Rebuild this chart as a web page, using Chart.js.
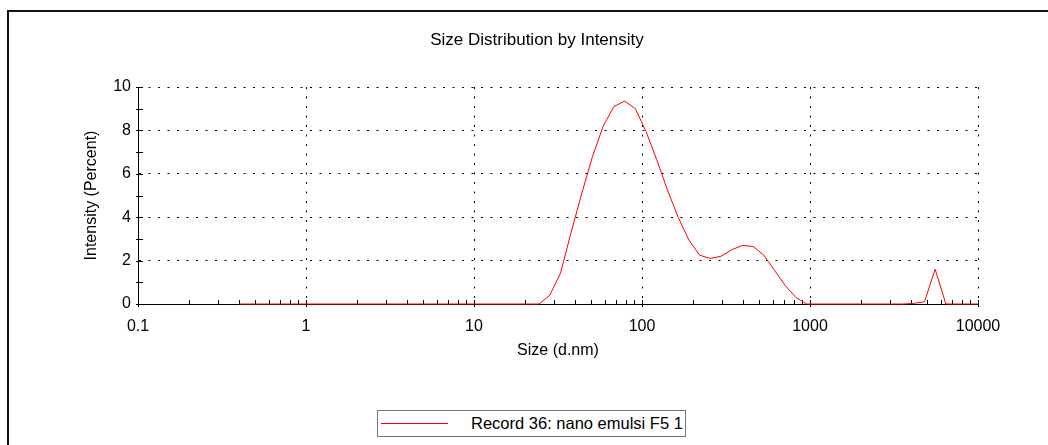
<!DOCTYPE html>
<html>
<head>
<meta charset="utf-8">
<script src="https://cdn.jsdelivr.net/npm/chart.js@4/dist/chart.umd.min.js"></script>
<style>
  body { margin: 0; background: #fff; }
  #wrap { position: relative; width: 1048px; height: 445px; overflow: hidden; }
  #frame { position: absolute; left: 7px; top: 10px; width: 2000px; height: 1000px;
           border-left: 2px solid #111; border-top: 2px solid #111; }
  #sizeChart { position: absolute; left: 0; top: 0; }
  #legend { position: absolute; left: 377px; top: 410px; width: 309px; height: 27px;
            box-sizing: border-box; border: 1px solid #777; background: #fff;
            font: 16.5px 'Liberation Sans', Arial, sans-serif; color: #000; }
  #legend .swatch { position: absolute; left: 3px; top: 12px; width: 67px; height: 1px; }
  #legend .text { position: absolute; left: 93px; top: 0; line-height: 25px; white-space: nowrap; }
</style>
</head>
<body>
<div id="wrap">
  <div id="frame"></div>
  <canvas id="sizeChart" width="1048" height="445"></canvas>
  <div id="legend"></div>
</div>
<script>
// size classes (d.nm) and intensity (%)
var sizes = [0.4, 0.4632, 0.5365, 0.6213, 0.7195, 0.8332, 0.9649, 1.117, 1.294, 1.499,
  1.736, 2.010, 2.328, 2.696, 3.122, 3.615, 4.187, 4.849, 5.615, 6.503,
  7.531, 8.721, 10.10, 11.70, 13.54, 15.69, 18.17, 21.04, 24.36, 28.21,
  32.67, 37.84, 43.82, 50.75, 58.77, 68.06, 78.82, 91.28, 105.7, 122.4,
  141.8, 164.2, 190.1, 220.2, 255.0, 295.3, 342.0, 396.1, 458.7, 531.2,
  615.1, 712.4, 825.0, 955.4, 1106, 1281, 1484, 1718, 1990, 2305,
  2669, 3091, 3580, 4145, 4801, 5560, 6439, 7456, 8635, 10000];
var intensity = [0, 0, 0, 0, 0, 0, 0, 0, 0, 0,
  0, 0, 0, 0, 0, 0, 0, 0, 0, 0,
  0, 0, 0, 0, 0, 0, 0, 0, 0, 0.4,
  1.4, 3.3, 5.1, 6.8, 8.2, 9.1, 9.35, 9.0, 7.95, 6.65,
  5.25, 4.0, 2.95, 2.25, 2.1, 2.2, 2.5, 2.7, 2.65, 2.25,
  1.55, 0.85, 0.3, 0, 0, 0, 0, 0, 0, 0,
  0, 0, 0, 0.03, 0.1, 1.6, 0, 0, 0, 0];
var seriesLabel = "Record 36: nano emulsi F5 1";
var xDecades = [0.1, 1, 10, 100, 1000, 10000];
var xTickLabels = ["0.1", "1", "10", "100", "1000", "10000"];
var yTickLabels = ["0", "", "2", "", "4", "", "6", "", "8", "", "10"];

Chart.defaults.font.family = "'Liberation Sans', Arial, sans-serif";
Chart.defaults.font.size = 16;
Chart.defaults.color = "#000";

// minor ticks 1..9 in every decade
var xTicks = [];
for (var d = 0; d < xDecades.length - 1; d++) {
  for (var m = 1; m <= 9; m++) xTicks.push(m * xDecades[d]);
}
xTicks.push(xDecades[xDecades.length - 1]);

function decadeIndex(v) {
  return xDecades.findIndex(function (dv) { return Math.abs(v / dv - 1) < 1e-6; });
}

var points = sizes.map(function (s, i) { return {x: s, y: intensity[i]}; });

// little tick marks that sit on the inside of the axes
var innerTicks = {
  id: "innerTicks",
  beforeDatasetsDraw: function (chart) {
    var ctx = chart.ctx, a = chart.chartArea, x = chart.scales.x, y = chart.scales.y;
    ctx.save();
    ctx.strokeStyle = "#000";
    ctx.lineWidth = 1;
    ctx.beginPath();
    x.ticks.forEach(function (t) {
      var px = Math.round(x.getPixelForValue(t.value)) + 0.5;
      var major = decadeIndex(t.value) >= 0;
      ctx.moveTo(px, a.bottom + (major ? 3 : 0.5));
      ctx.lineTo(px, a.bottom - 4);
    });
    y.ticks.forEach(function (t) {
      var py = Math.round(y.getPixelForValue(t.value)) + 0.5;
      ctx.moveTo(a.left - 2, py);
      ctx.lineTo(a.left + 5, py);
    });
    ctx.stroke();
    ctx.restore();
  }
};

var chart = new Chart("sizeChart", {
  type: "line",
  data: {
    datasets: [{
      label: seriesLabel,
      data: points,
      borderColor: "#ff0000",
      backgroundColor: "#ff0000",
      borderWidth: 1,
      pointRadius: 0,
      tension: 0,
      clip: false
    }]
  },
  options: {
    responsive: false,
    animation: false,
    devicePixelRatio: 1,
    layout: { padding: { left: 96, right: 70, top: 0, bottom: 84.4 } },
    plugins: {
      legend: { display: false },
      tooltip: { enabled: false },
      title: {
        display: true,
        text: "Size Distribution by Intensity",
        font: { size: 17, weight: "normal" },
        color: "#000",
        padding: { top: 30, bottom: 36.6 }
      }
    },
    scales: {
      x: {
        type: "logarithmic",
        min: 0.1,
        max: 10000,
        afterBuildTicks: function (scale) {
          scale.ticks = xTicks.map(function (v) { return {value: v}; });
        },
        afterFit: function (scale) { scale.height = 56.6; },
        ticks: {
          autoSkip: false,
          maxRotation: 0,
          padding: 13,
          callback: function (v) {
            var i = decadeIndex(v);
            return i >= 0 ? xTickLabels[i] : "";
          }
        },
        grid: {
          drawTicks: false,
          lineWidth: 1,
          borderDash: [2, 7.5],
          color: function (c) {
            if (!c.tick) return "rgba(0,0,0,0)";
            var i = decadeIndex(c.tick.value);
            return i > 0 ? "#000" : "rgba(0,0,0,0)";
          }
        },
        border: { display: true, color: "#000", width: 1, dash: [2, 7.5] },
        title: { display: true, text: "Size (d.nm)", font: { size: 16 }, padding: { top: 0, bottom: 0 } }
      },
      y: {
        type: "linear",
        min: 0,
        max: 10,
        afterFit: function (scale) { scale.width = 42; },
        ticks: {
          stepSize: 1,
          autoSkip: false,
          padding: 7,
          callback: function (v) { return yTickLabels[v] !== undefined ? yTickLabels[v] : ""; }
        },
        grid: {
          drawTicks: false,
          lineWidth: 1,
          borderDash: [2, 7.5],
          color: function (c) {
            if (!c.tick) return "rgba(0,0,0,0)";
            var v = c.tick.value;
            return (v > 0 && v % 2 === 0) ? "#000" : "rgba(0,0,0,0)";
          }
        },
        border: { display: true, color: "#000", width: 1, dash: [2, 7.5] },
        title: { display: true, text: "Intensity (Percent)", font: { size: 16 }, padding: { top: -13.6, bottom: 0 } }
      }
    }
  },
  plugins: [innerTicks]
});

// legend box built from the dataset
var ds = chart.data.datasets[0];
var legend = document.getElementById("legend");
var sw = document.createElement("span");
sw.className = "swatch";
sw.style.background = ds.borderColor;
var tx = document.createElement("span");
tx.className = "text";
tx.textContent = ds.label;
legend.appendChild(sw);
legend.appendChild(tx);
</script>
</body>
</html>
